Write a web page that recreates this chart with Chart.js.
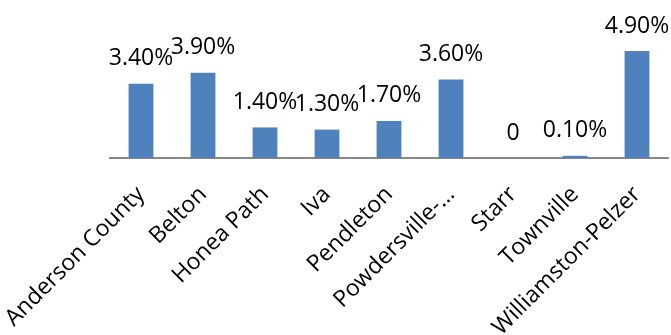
<!DOCTYPE html>
<html>
<head>
<meta charset="utf-8">
<script src="https://cdn.jsdelivr.net/npm/chart.js@4/dist/chart.umd.min.js"></script>
<style>
  html, body { margin: 0; padding: 0; background: #fff; }
  #wrap { width: 671px; height: 335px; }
</style>
</head>
<body>
<div id="wrap"><canvas id="chart" width="671" height="335"></canvas></div>
<script>
// ── data ─────────────────────────────────────────────
const places = ['Anderson County', 'Belton', 'Honea Path', 'Iva', 'Pendleton',
  'Powdersville-\u2026', 'Starr', 'Townville', 'Williamston-Pelzer'];
const rates = [3.4, 3.9, 1.4, 1.3, 1.7, 3.6, 0, 0.1, 4.9];
const rateLabels = ['3.40%', '3.90%', '1.40%', '1.30%', '1.70%', '3.60%', '0', '0.10%', '4.90%'];

const FONT = '"Open Sans", sans-serif';

// value labels above the bars
const barLabels = {
  id: 'barLabels',
  afterDatasetsDraw(chart) {
    const ctx = chart.ctx;
    const meta = chart.getDatasetMeta(0);
    ctx.save();
    ctx.font = '23px ' + FONT;
    ctx.fillStyle = '#000';
    ctx.textAlign = 'center';
    ctx.textBaseline = 'alphabetic';
    meta.data.forEach((bar, i) => {
      ctx.fillText(rateLabels[i], bar.x, bar.y - 18.5);
    });
    ctx.restore();
  }
};

new Chart(document.getElementById('chart'), {
  type: 'bar',
  data: {
    labels: places,
    datasets: [{
      data: rates,
      backgroundColor: '#4F81BD',
      borderWidth: 0,
      barPercentage: 0.4,
      categoryPercentage: 1.0
    }]
  },
  options: {
    responsive: false,
    animation: false,
    layout: { padding: { left: 110, right: 3, top: 27, bottom: 0 } },
    plugins: {
      legend: { display: false },
      tooltip: { enabled: false }
    },
    scales: {
      x: {
        grid: { display: false, drawTicks: false },
        border: { display: true, color: '#868686', width: 2 },
        ticks: {
          color: '#000',
          font: { family: FONT, size: 23 },
          autoSkip: false,
          minRotation: 45,
          maxRotation: 45,
          padding: 23
        },
        afterFit(scale) {
          scale.height = 177;
          scale.paddingLeft = 0;
          scale.paddingRight = 0;
        }
      },
      y: {
        display: false,
        min: 0,
        max: 6
      }
    }
  },
  plugins: [barLabels]
});
</script>
</body>
</html>
